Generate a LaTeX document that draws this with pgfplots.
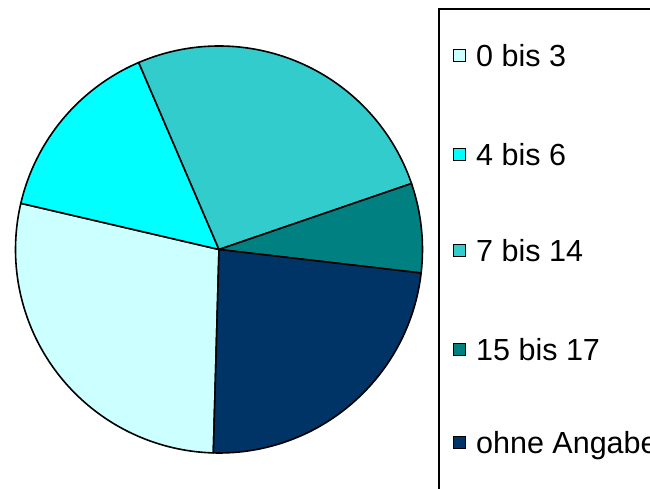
\documentclass[border=0pt]{standalone}
\usepackage{pgfplots}
\usepackage{pgfplotstable}
\pgfplotsset{compat=1.18}
\usepackage{fontspec}
\setmainfont{Liberation Sans}
\definecolor{cA}{HTML}{CCFFFF}
\definecolor{cB}{HTML}{00FFFF}
\definecolor{cC}{HTML}{33CCCC}
\definecolor{cD}{HTML}{008080}
\definecolor{cE}{HTML}{003366}

% share of each group in percent, colour, legend row position
\pgfplotstableread[col sep=comma]{
label,value,color,ly
0 bis 3,28.2,cA,433
4 bis 6,14.9,cB,334
7 bis 14,26.2,cC,238.5
15 bis 17,7.1,cD,139
ohne Angabe,23.6,cE,46
}\piedata

\begin{document}
\begin{tikzpicture}
\begin{axis}[at={(0pt,0pt)}, anchor=origin, x=1pt, y=1pt,
  xmin=0, xmax=650, ymin=0, ymax=489, hide axis, clip=false]
  \def\cx{219}\def\cy{239.5}\def\rr{203.5}
  \def\ang{268.4}
  \pgfplotsforeachungrouped \i in {0,...,4}{%
    \pgfplotstablegetelem{\i}{value}\of\piedata \let\val=\pgfplotsretval
    \pgfplotstablegetelem{\i}{color}\of\piedata \let\col=\pgfplotsretval
    \pgfplotstablegetelem{\i}{label}\of\piedata \let\lab=\pgfplotsretval
    \pgfplotstablegetelem{\i}{ly}\of\piedata \let\ly=\pgfplotsretval
    \pgfmathsetmacro{\dang}{3.6*\val}
    \pgfmathsetmacro{\sqlo}{\ly-6}
    \pgfmathsetmacro{\sqhi}{\ly+6}
    \pgfmathsetmacro{\base}{\ly-10.9}
    \edef\cmd{%
      \noexpand\filldraw[fill=\col, draw=black, line width=1.6pt, line join=round]
        (axis cs:\cx,\cy) -- ++(\ang:\rr pt)
        arc[start angle=\ang, delta angle=-\dang, radius=\rr pt] -- cycle;
      \noexpand\filldraw[fill=\col, draw=black, line width=1pt]
        (axis cs:453.5,\sqlo) rectangle (axis cs:465.5,\sqhi);
      \noexpand\node[anchor=base west, inner sep=0pt,
        font=\noexpand\fontsize{30.5}{36}\noexpand\selectfont]
        at (axis cs:476,\base) {\lab};
    }%
    \cmd
    \pgfmathsetmacro{\ang}{\ang-\dang}%
  }
  \draw[line width=1.2pt] (axis cs:650,480) -- (axis cs:439,480) -- (axis cs:439,0);
\end{axis}
\pgfresetboundingbox
\useasboundingbox (0pt,0pt) rectangle (650pt,489pt);
\end{tikzpicture}
\end{document}
